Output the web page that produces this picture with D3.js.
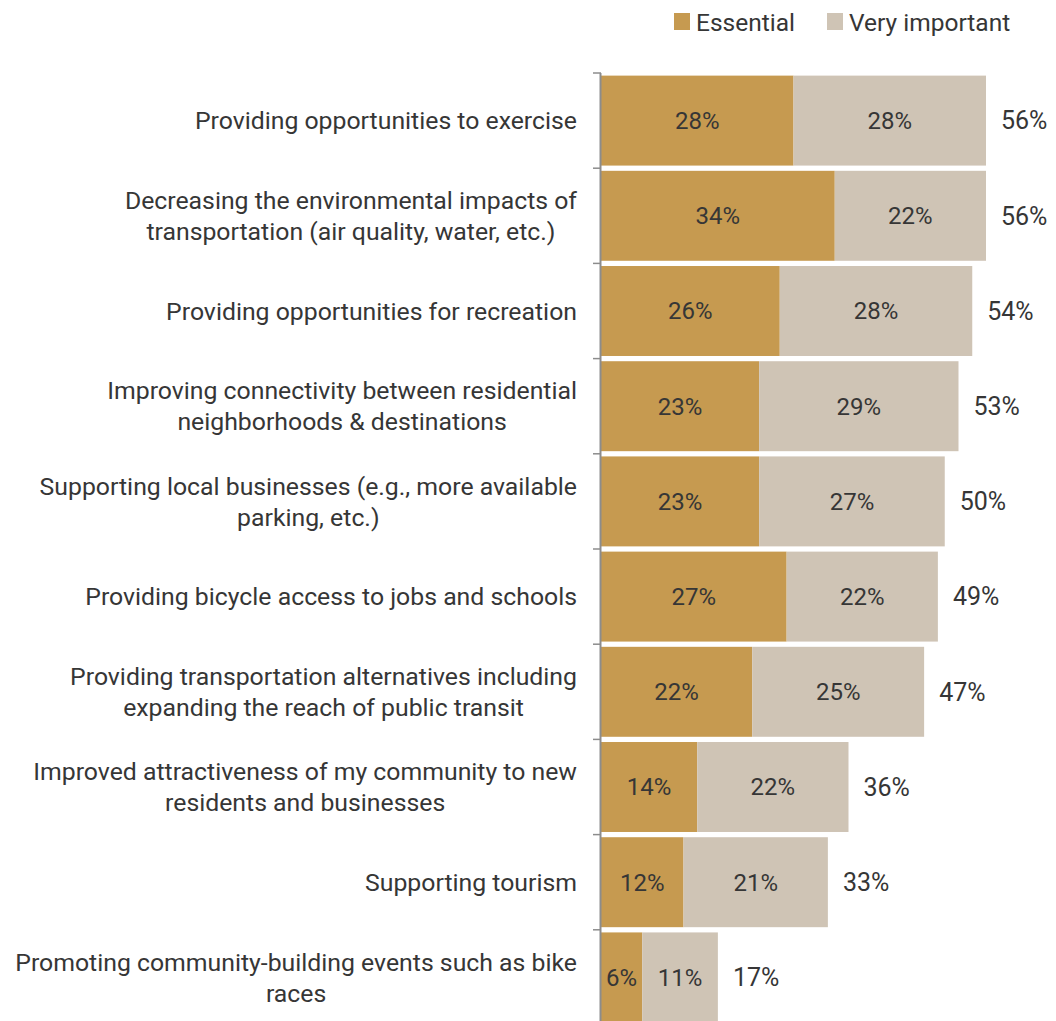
<!DOCTYPE html>
<html>
<head>
<meta charset="utf-8">
<script src="https://cdn.jsdelivr.net/npm/d3@7"></script>
<style>
  html, body { margin: 0; padding: 0; background: #fff; }
  svg { display: block; }
  text { font-family: "Roboto", sans-serif; fill: #363636; }
</style>
</head>
<body>
<svg id="chart" width="1056" height="1021"></svg>
<script>
// Benefits rated by respondents, with shares answering Essential / Very important
const categories = [
  ["Providing opportunities to exercise"],
  ["Decreasing the environmental impacts of", "transportation (air quality, water, etc.)"],
  ["Providing opportunities for recreation"],
  ["Improving connectivity between residential", "neighborhoods & destinations"],
  ["Supporting local businesses (e.g., more available", "parking, etc.)"],
  ["Providing bicycle access to jobs and schools"],
  ["Providing transportation alternatives including", "expanding the reach of public transit"],
  ["Improved attractiveness of my community to new", "residents and businesses"],
  ["Supporting tourism"],
  ["Promoting community-building events such as bike", "races"]
];
const essential     = [28, 34, 26, 23, 23, 27, 22, 14, 12, 6];
const veryImportant = [28, 22, 28, 29, 27, 22, 25, 22, 21, 11];
const totals        = [56, 56, 54, 53, 50, 49, 47, 36, 33, 17];
const seriesNames   = ["Essential", "Very important"];
const colors        = ["#c69a50", "#cfc4b5"];

const svg = d3.select("#chart");
const x0 = 601;
const plotTop = 73;
const step = 95.2;

const x = d3.scaleLinear().domain([0, 56]).range([x0, 986]);
const y = d3.scaleBand()
  .domain(d3.range(categories.length))
  .range([plotTop, plotTop + step * categories.length])
  .paddingInner(0.055)
  .paddingOuter(0.0275);

const rows = categories.map((c, i) => ({ i, e: essential[i], v: veryImportant[i], t: totals[i] }));

// Stacked segments with value labels, total to the right of each bar
const g = svg.append("g");
rows.forEach(r => {
  const segs = [
    { a: 0, b: r.e, c: colors[0] },
    { a: r.e, b: r.e + r.v, c: colors[1] }
  ];
  segs.forEach((s, k) => {
    g.append("rect")
      .attr("x", x(s.a))
      .attr("y", y(r.i))
      .attr("width", x(s.b) - x(s.a))
      .attr("height", y.bandwidth())
      .attr("fill", s.c);
    g.append("text")
      .attr("x", (x(s.a) + x(s.b)) / 2)
      .attr("y", y(r.i) + y.bandwidth() / 2)
      .attr("dy", "0.35em")
      .attr("text-anchor", "middle")
      .attr("font-size", 24)
      .text((k === 0 ? r.e : r.v) + "%");
  });
  g.append("text")
    .attr("x", x(r.e + r.v) + 15)
    .attr("y", y(r.i) + y.bandwidth() / 2)
    .attr("dy", "0.35em")
    .attr("font-size", 25)
    .text(r.t + "%");
});

// Category axis: vertical rule with ticks between rows
const axisG = svg.append("g");
axisG.append("line")
  .attr("x1", x0 - 0.5).attr("x2", x0 - 0.5)
  .attr("y1", plotTop).attr("y2", 1021)
  .attr("stroke", "#8c8c8c").attr("stroke-width", 2);
d3.range(categories.length).forEach(i => {
  axisG.append("line")
    .attr("x1", x0 - 8).attr("x2", x0)
    .attr("y1", plotTop + step * i).attr("y2", plotTop + step * i)
    .attr("stroke", "#8c8c8c").attr("stroke-width", 1.5);
});

// Category labels: block right-aligned, lines centred within the block
const labelRight = 577;
const lineH = 31;
const labelSize = 24.8;
categories.forEach((lines, i) => {
  const cy = y(i) + y.bandwidth() / 2;
  const tmp = lines.map(l => svg.append("text").attr("font-size", labelSize).text(l));
  const wMax = d3.max(tmp, t => t.node().getComputedTextLength());
  tmp.forEach(t => t.remove());
  const cx = labelRight - wMax / 2;
  lines.forEach((l, k) => {
    svg.append("text")
      .attr("x", cx)
      .attr("y", cy + (k - (lines.length - 1) / 2) * lineH)
      .attr("dy", "0.35em")
      .attr("text-anchor", "middle")
      .attr("font-size", labelSize)
      .text(l);
  });
});

// Legend
const legend = svg.append("g");
const legendItems = [{ x: 674, name: seriesNames[0], c: colors[0] }, { x: 827, name: seriesNames[1], c: colors[1] }];
legendItems.forEach(it => {
  legend.append("rect").attr("x", it.x).attr("y", 13).attr("width", 16).attr("height", 17).attr("fill", it.c);
  legend.append("text").attr("x", it.x + 22).attr("y", 22).attr("dy", "0.35em").attr("font-size", 24.5).text(it.name);
});
</script>
</body>
</html>
